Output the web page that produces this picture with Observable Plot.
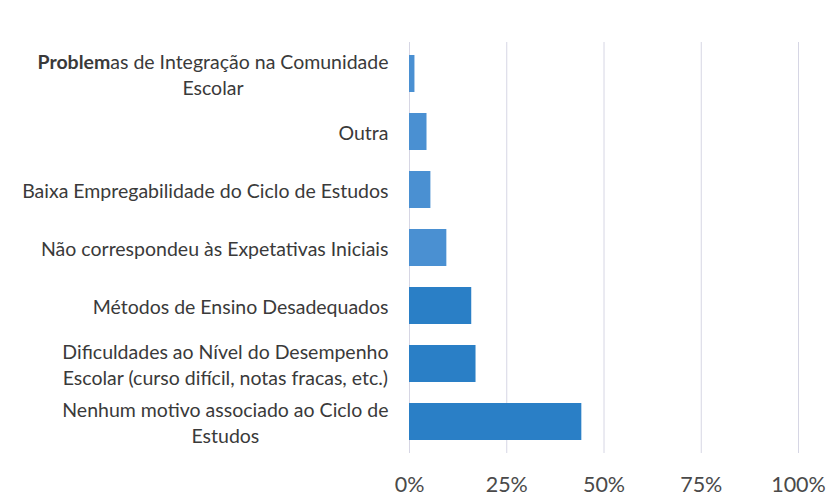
<!DOCTYPE html>
<html>
<head>
<meta charset="utf-8">
<script src="https://cdn.jsdelivr.net/npm/d3@7"></script>
<script src="https://cdn.jsdelivr.net/npm/@observablehq/plot@0.6"></script>
<style>
  html, body { margin: 0; padding: 0; background: #fff; }
  #chart { width: 838px; height: 501px; }
</style>
</head>
<body>
<div id="chart"></div>
<script>
const categories = [
  "Problemas de Integração na Comunidade\nEscolar",
  "Outra",
  "Baixa Empregabilidade do Ciclo de Estudos",
  "Não correspondeu às Expetativas Iniciais",
  "Métodos de Ensino Desadequados",
  "Dificuldades ao Nível do Desempenho\nEscolar (curso difícil, notas fracas, etc.)",
  "Nenhum motivo associado ao Ciclo de\nEstudos"
];
const values = [1.4, 4.5, 5.5, 9.6, 16.0, 17.1, 44.3];
const xTicks = [0, 25, 50, 75, 100];

const data = categories.map((c, i) => ({category: c, value: values[i], idx: i}));

const chart = Plot.plot({
  width: 838,
  height: 501,
  marginLeft: 409,
  marginRight: 40,
  marginTop: 42,
  marginBottom: 48,
  style: {fontFamily: "Lato, 'Open Sans', sans-serif", background: "#fff", color: "#404040"},
  x: {domain: [0, 100]},
  y: {domain: categories, paddingInner: 0.37, paddingOuter: 0.185},
  marks: [
    Plot.gridX(xTicks, {stroke: "#d6d6e4", strokeOpacity: 1, strokeWidth: 1}),
    Plot.barX(data, {
      x: "value",
      y: "category",
      fill: d => d.idx < 4 ? "#4a90d2" : "#2a7fc6"
    }),
    Plot.axisX({ticks: xTicks, tickFormat: d => d + "%", tickSize: 0, tickPadding: 23, fontSize: 21.5, label: null, fill: "#4a4a4a"}),
    Plot.axisY({tickSize: 0, tickPadding: 21, fontSize: 19.5, lineHeight: 1.3, label: null, fill: "#3a3a3a"})
  ]
});
document.getElementById("chart").appendChild(chart);

// Center the lines of multi-line category labels within their block (as in the source chart)
const labels = chart.querySelectorAll('g[aria-label="y-axis tick label"] text');
labels.forEach(t => {
  const spans = t.querySelectorAll(":scope > tspan");
  if (spans.length < 2) return;
  // bold "Problem" prefix as seen in the reference
  spans.forEach(s => {
    if (s.textContent.startsWith("Problemas")) {
      const rest = s.textContent.slice("Problem".length);
      s.textContent = "";
      const b = document.createElementNS("http://www.w3.org/2000/svg", "tspan");
      b.setAttribute("font-weight", "bold");
      b.textContent = "Problem";
      const r = document.createElementNS("http://www.w3.org/2000/svg", "tspan");
      r.textContent = rest;
      s.appendChild(b); s.appendChild(r);
    }
  });
  const bb = t.getBBox();
  const right = bb.x + bb.width;
  let maxW = 0;
  spans.forEach(s => { maxW = Math.max(maxW, s.getComputedTextLength()); });
  t.setAttribute("text-anchor", "middle");
  spans.forEach(s => s.setAttribute("x", right - maxW / 2));
});
</script>
</body>
</html>
